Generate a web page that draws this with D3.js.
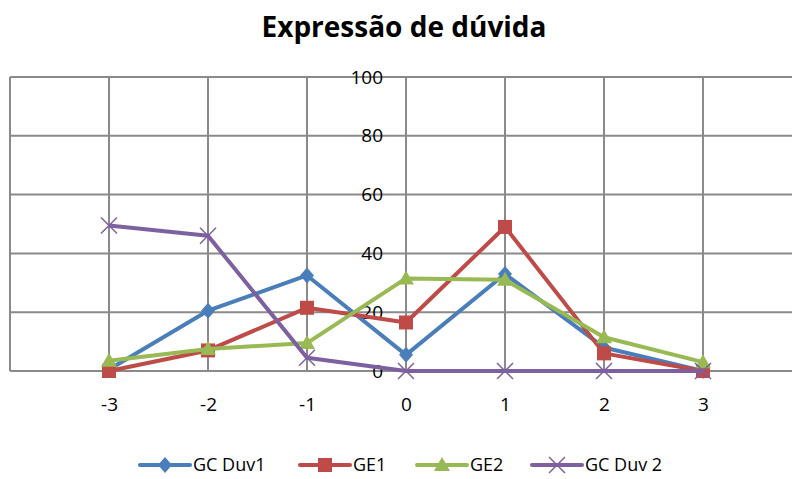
<!DOCTYPE html>
<meta charset="utf-8">
<title>Expressão de dúvida</title>
<style>

body {
  margin: 0;
  background: #fff;
}

svg {
  font-family: "Open Sans", "Noto Sans", sans-serif;
  display: block;
}

.grid line {
  stroke: #8a8a8a;
  stroke-width: 2;
}

</style>
<body>
<script src="https://d3js.org/d3.v7.min.js"></script>
<script>

var categories = [-3, -2, -1, 0, 1, 2, 3];
var yTicks = [0, 20, 40, 60, 80, 100];

var gcDuv1 = [0.5, 20.5, 32.5, 5.5, 33, 8, 0];
var ge1 = [0, 7, 21.5, 16.5, 49, 6, 0];
var ge2 = [3.5, 7.5, 9.5, 31.5, 31, 11.5, 3];
var gcDuv2 = [49.5, 46, 4.5, 0, 0, 0, 0];

var seriesNames = ["GC Duv1", "GE1", "GE2", "GC Duv 2"];
var seriesValues = [gcDuv1, ge1, ge2, gcDuv2];
var colors = ["#4a7ebb", "#be4b48", "#98b954", "#7d60a0"];
var symbols = ["diamond", "square", "triangle", "cross"];

var width = 792,
    height = 479;

var x = d3.scaleLinear()
    .domain([-4, 4])
    .range([10, 802]);

var y = d3.scaleLinear()
    .domain([0, 100])
    .range([371, 77]);

var svg = d3.select("body").append("svg")
    .attr("width", width)
    .attr("height", height);

svg.append("text")
    .attr("x", 404)
    .attr("y", 37)
    .attr("text-anchor", "middle")
    .style("font-size", "28px")
    .style("font-weight", "bold")
    .text("Expressão de dúvida");

// grid
var grid = svg.append("g").attr("class", "grid");

grid.selectAll(".h")
    .data(yTicks)
  .enter().append("line")
    .attr("x1", x(-4))
    .attr("x2", width)
    .attr("y1", function(d) { return y(d); })
    .attr("y2", function(d) { return y(d); });

grid.selectAll(".v")
    .data(d3.range(-4, 4))
  .enter().append("line")
    .attr("x1", function(d) { return x(d); })
    .attr("x2", function(d) { return x(d); })
    .attr("y1", y(100))
    .attr("y2", y(0));

function styleAxis(g) {
  g.select(".domain").remove();
  g.attr("font-family", null).attr("font-size", null);
  g.selectAll("text")
      .style("font-family", '"Open Sans", sans-serif')
      .style("font-size", "19px")
      .attr("fill", "#000");
}

// y labels next to the axis at x = 0
var yAxis = d3.axisLeft(y)
    .tickValues(yTicks)
    .tickSize(0)
    .tickPadding(23);

svg.append("g")
    .attr("class", "axis")
    .attr("transform", "translate(" + x(0) + ",0)")
    .call(yAxis)
    .call(styleAxis);

// x labels (plain hyphen for negatives)
var xAxis = d3.axisBottom(x)
    .tickValues(categories)
    .tickFormat(function(d) { return String(d); })
    .tickSize(0)
    .tickPadding(27);

svg.append("g")
    .attr("class", "axis")
    .attr("transform", "translate(0," + y(0) + ")")
    .call(xAxis)
    .call(styleAxis);

var line = d3.line()
    .x(function(d, i) { return x(categories[i]); })
    .y(function(d) { return y(d); });

function drawMarker(g, type, color) {
  if (type === "diamond") {
    g.append("path").attr("d", "M0,-8L7,0L0,8L-7,0Z").attr("fill", color);
  } else if (type === "square") {
    g.append("rect").attr("x", -7).attr("y", -7).attr("width", 14).attr("height", 14).attr("fill", color);
  } else if (type === "triangle") {
    g.append("path").attr("d", "M0,-8L8,6L-8,6Z").attr("fill", color);
  } else {
    g.append("path").attr("d", "M-8,-8L8,8M8,-8L-8,8")
        .attr("stroke", color).attr("stroke-width", 1.5).attr("fill", "none");
  }
}

seriesValues.forEach(function(vals, s) {
  var g = svg.append("g");
  g.append("path")
      .datum(vals)
      .attr("fill", "none")
      .attr("stroke", colors[s])
      .attr("stroke-width", 4)
      .attr("stroke-linejoin", "round")
      .attr("d", line);
  vals.forEach(function(v, i) {
    var m = g.append("g")
        .attr("transform", "translate(" + x(categories[i]) + "," + y(v) + ")");
    drawMarker(m, symbols[s], colors[s]);
  });
});

// legend
var legendX = [140, 300, 417, 532];
var legend = svg.append("g").attr("transform", "translate(0,465)");

seriesNames.forEach(function(name, s) {
  var item = legend.append("g").attr("transform", "translate(" + legendX[s] + ",0)");
  item.append("line")
      .attr("x1", 0).attr("x2", 50)
      .attr("stroke", colors[s])
      .attr("stroke-width", 4)
      .attr("stroke-linecap", "round");
  var m = item.append("g").attr("transform", "translate(25,0)");
  drawMarker(m, symbols[s], colors[s]);
  item.append("text")
      .attr("x", 53)
      .attr("dy", "0.35em")
      .style("font-size", "18px")
      .text(name);
});

</script>
</body>
